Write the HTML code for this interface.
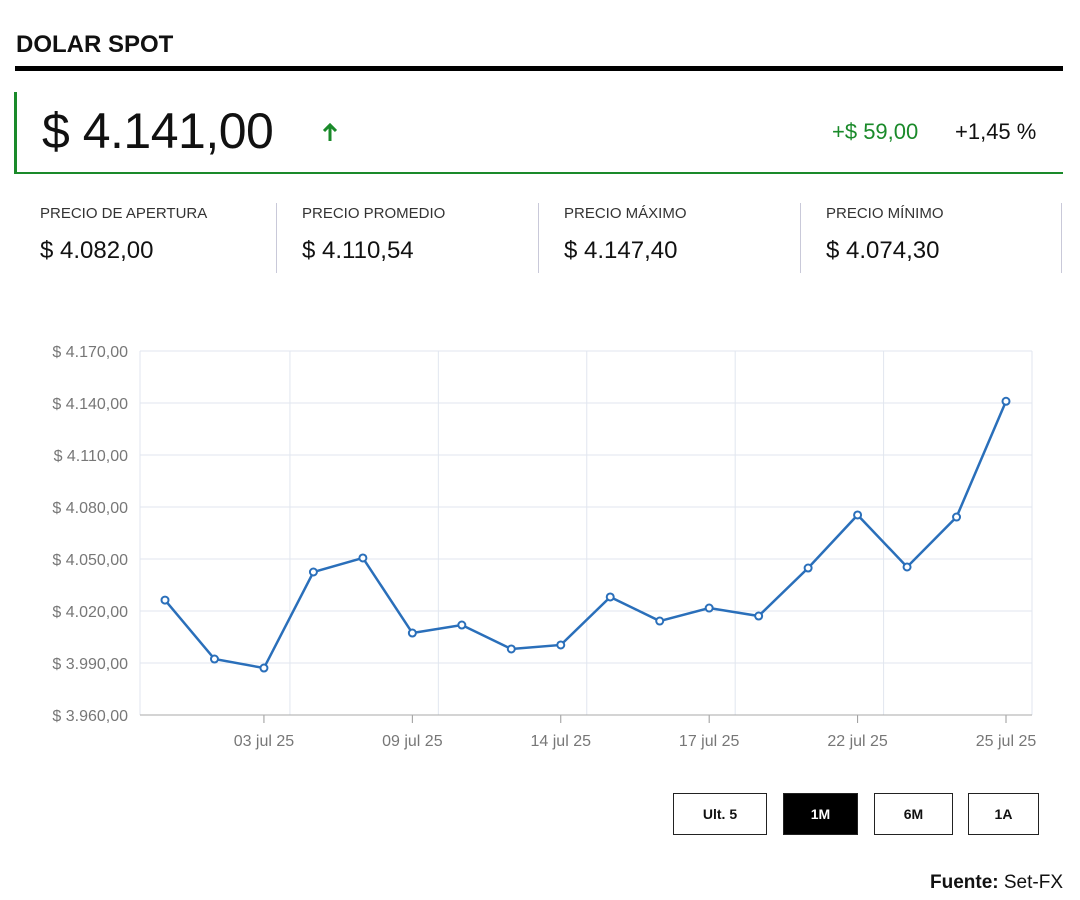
<!DOCTYPE html>
<html><head><meta charset="utf-8"><style>
body{margin:0;width:1080px;height:900px;background:#fff;font-family:"Liberation Sans",sans-serif;color:#111;position:relative;overflow:hidden}
.abs{position:absolute}
.lbl{font-size:15px;color:#333;top:205px}
.val{font-size:24px;color:#111;top:237px}
.sep{position:absolute;top:203px;width:1px;height:70px;background:#c9c9d9}
.btn{position:absolute;top:793px;height:42px;border:1.5px solid #222;box-sizing:border-box;font-size:14px;font-weight:bold;display:flex;align-items:center;justify-content:center;background:#fff}
</style></head><body>
<div class="abs" style="left:16px;top:31px;font-size:24px;font-weight:bold">DOLAR SPOT</div>
<div class="abs" style="left:15px;top:66px;width:1048px;height:5px;background:#000"></div>
<div class="abs" style="left:14px;top:92px;width:1049px;height:82px;border-left:3px solid #1a8a2a;border-bottom:2px solid #1a8a2a;box-sizing:border-box"></div>
<div class="abs" style="left:42px;top:102px;font-size:50px;letter-spacing:-0.5px">$ 4.141,00</div>
<svg class="abs" style="left:321px;top:123px" width="18" height="20" viewBox="0 0 18 20"><path d="M9 2 L9 18 M3 8 L9 2 L15 8" fill="none" stroke="#1a8a2a" stroke-width="3"/></svg>
<div class="abs" style="left:832px;top:119px;font-size:22px;color:#1a8a2a">+$ 59,00</div>
<div class="abs" style="left:955px;top:119px;font-size:22px">+1,45 %</div>
<div class="abs lbl" style="left:40px">PRECIO DE APERTURA</div>
<div class="abs val" style="left:40px">$ 4.082,00</div>
<div class="sep" style="left:276px"></div>
<div class="abs lbl" style="left:302px">PRECIO PROMEDIO</div>
<div class="abs val" style="left:302px">$ 4.110,54</div>
<div class="sep" style="left:538px"></div>
<div class="abs lbl" style="left:564px">PRECIO MÁXIMO</div>
<div class="abs val" style="left:564px">$ 4.147,40</div>
<div class="sep" style="left:800px"></div>
<div class="abs lbl" style="left:826px">PRECIO MÍNIMO</div>
<div class="abs val" style="left:826px">$ 4.074,30</div>
<div class="sep" style="left:1061px"></div>

<svg class="abs" style="left:0;top:0" width="1080" height="900" id="chart"></svg>

<div class="btn" style="left:673px;width:94px">Ult. 5</div>
<div class="btn" style="left:783px;width:75px;background:#000;color:#fff">1M</div>
<div class="btn" style="left:874px;width:79px">6M</div>
<div class="btn" style="left:968px;width:71px">1A</div>
<div class="abs" style="right:17px;top:872px;font-size:19px"><b>Fuente:</b> Set-FX</div>

<script>
const values=[4026.3,3992.3,3987.1,4042.5,4050.6,4007.3,4011.9,3998.1,4000.4,4028.1,4014.2,4021.7,4017.1,4044.8,4075.4,4045.4,4074.2,4141];
const yTicks=[3960,3990,4020,4050,4080,4110,4140,4170];
const xTickIdx=[2,5,8,11,14,17];
const xTickLabels=["03 jul 25","09 jul 25","14 jul 25","17 jul 25","22 jul 25","25 jul 25"];
const svg=document.getElementById('chart');const NS='http://www.w3.org/2000/svg';
const L=140,R=1032,T=351,B=715,ymin=3960,ymax=4170,x0=165,dx=(1006-165)/17;
const X=i=>x0+i*dx, Y=v=>B-(v-ymin)/(ymax-ymin)*(B-T);
function mk(t,a){const e=document.createElementNS(NS,t);for(const k in a)e.setAttribute(k,a[k]);svg.appendChild(e);return e;}
const fmt=v=>'$ '+Math.floor(v/1000)+'.'+String(v%1000).padStart(3,'0')+',00';
yTicks.forEach(v=>{const g=mk('line',{x1:L,x2:R,y1:Y(v),y2:Y(v),stroke:'#e1e6ef','stroke-width':1});

const t=mk('text',{x:128,y:Y(v)+6,'text-anchor':'end','font-size':16,fill:'#777','font-family':'Liberation Sans'});t.textContent=fmt(v);
});
xTickIdx.forEach((i,k)=>{const gx=X(i)+26;
if(k<5){const g=mk('line',{x1:gx,x2:gx,y1:T,y2:B,stroke:'#e1e6ef'});}
const tk=mk('line',{x1:X(i),x2:X(i),y1:B,y2:B+8,stroke:'#999'});
const t=mk('text',{x:X(i),y:B+31,'text-anchor':'middle','font-size':16,fill:'#777','font-family':'Liberation Sans'});t.textContent=xTickLabels[k];
});
[L,R].forEach(x=>{const g=mk('line',{x1:x,x2:x,y1:T,y2:B,stroke:'#e1e6ef'});});
const ax=mk('line',{x1:L,x2:R,y1:B,y2:B,stroke:'#aaa'});
const p=mk('polyline',{points:values.map((v,i)=>X(i)+','+Y(v)).join(' '),fill:'none',stroke:'#2a6fba','stroke-width':2.5});

values.forEach((v,i)=>{const c=mk('circle',{cx:X(i),cy:Y(v),r:3.5,fill:'#fff',stroke:'#2a6fba','stroke-width':2});
});
</script>
</body></html>
